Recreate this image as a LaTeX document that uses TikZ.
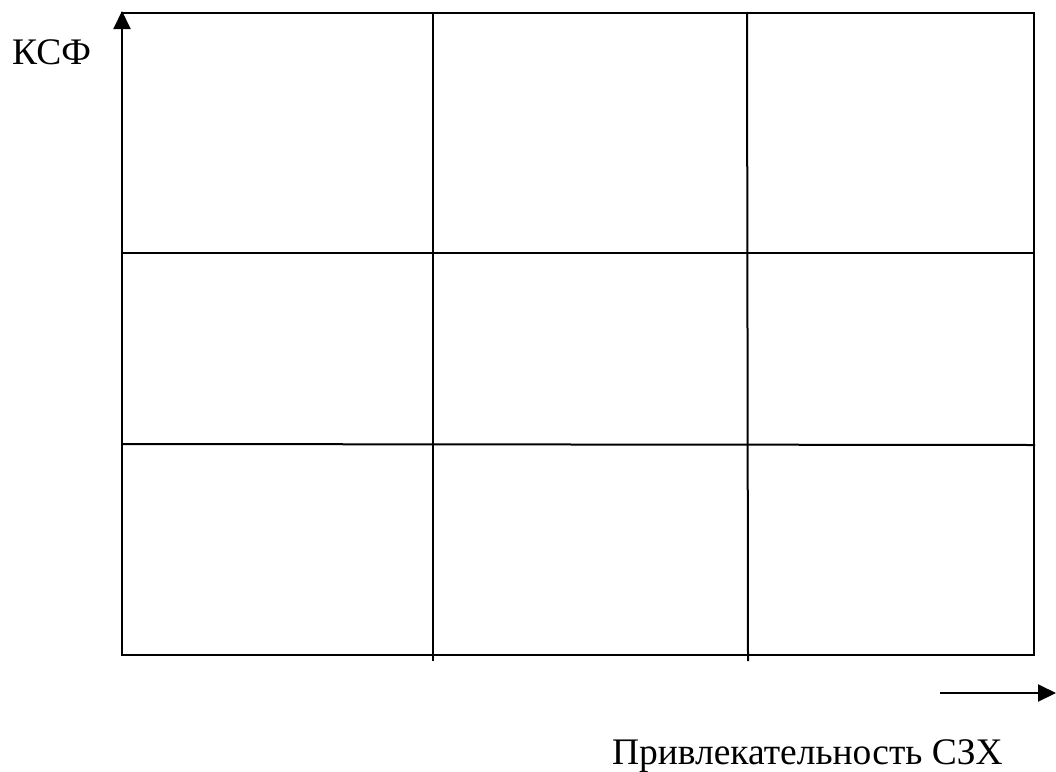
\documentclass[tikz,border=0pt]{standalone}
\usepackage{fontspec}
\setmainfont{Liberation Serif}
\usetikzlibrary{arrows.meta}
\begin{document}
\begin{tikzpicture}[x=1pt,y=-1pt,
  gridline/.style={line width=2pt, line cap=rect},
  axisarrow/.style={line width=2pt, -{Triangle[length=18pt,width=17pt]}},
  lbl/.style={font=\fontsize{37.5}{40}\selectfont, inner sep=0pt}]
\useasboundingbox (0,0) rectangle (1056,771);
% grid corners
\coordinate (tl) at (122,13);
\coordinate (tr) at (1034,13);
\coordinate (bl) at (122,655);
\coordinate (br) at (1034,655);
\coordinate (v1t) at (433,13);
\coordinate (v1b) at (433,660);
\coordinate (v2t) at (747,13);
\coordinate (v2b) at (748,660);
\coordinate (h1l) at (122,253);
\coordinate (h1r) at (1034,253);
\coordinate (h2l) at (122,444);
\coordinate (h2r) at (1034,445);
\coordinate (ybase) at (122,110);
\coordinate (ytip) at (122,11);
\coordinate (xbase) at (940,693);
\coordinate (xtip) at (1056,693);
% outer frame (left side below the arrow)
\draw[gridline] (ybase) -- (bl) -- (br) -- (tr) -- (tl);
\draw[gridline] (v1t) -- (v1b);
\draw[gridline] (v2t) -- (v2b);
\draw[gridline] (h1l) -- (h1r);
\draw[gridline] (h2l) -- (h2r);
% axes
\draw[axisarrow] (ybase) -- (ytip);
\draw[axisarrow] (xbase) -- (xtip);
% labels
\node[lbl, anchor=base west] (ksf) at (12,64) {КСФ};
\node[lbl, anchor=base east] (attr) at (1003,764) {Привлекательность СЗХ};
\end{tikzpicture}
\end{document}
